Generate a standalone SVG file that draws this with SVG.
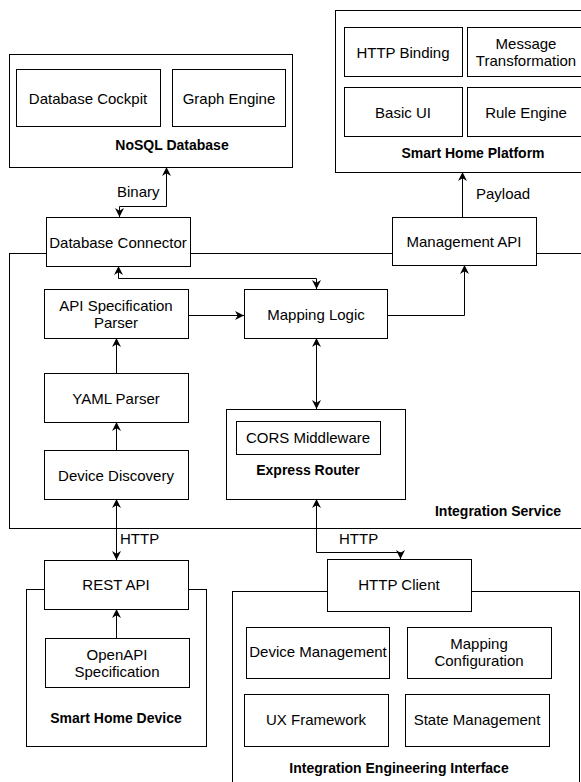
<svg xmlns="http://www.w3.org/2000/svg" width="581" height="782" viewBox="0 0 581 782">
<defs>
<marker id="arr" viewBox="0 0 10 10" refX="10" refY="5" markerWidth="9" markerHeight="9" markerUnits="userSpaceOnUse" orient="auto-start-reverse">
<path d="M0,0 L10,5 L0,10 L3,5 Z" fill="#000"/>
</marker>
</defs>
<style>
rect{fill:#fff;stroke:#000;stroke-width:1}
text{font-family:"Liberation Sans",Arial,sans-serif;font-size:15px;fill:#000;text-anchor:middle;dominant-baseline:central}
.b{font-weight:bold;font-size:14px}
.s{text-anchor:start}
.c path{fill:none;stroke:#000;stroke-width:1}
.e{marker-end:url(#arr)}
.d{marker-start:url(#arr);marker-end:url(#arr)}
</style>
<rect width="581" height="782" style="fill:#fff;stroke:none"/>
<g id="nosql-database">
<rect x="9.5" y="54.5" width="283" height="113"/>
<text class="b" x="172" y="145">NoSQL Database</text>
</g>
<g id="database-cockpit"><rect x="16.5" y="69.5" width="144" height="57"/><text x="88" y="98">Database Cockpit</text></g>
<g id="graph-engine"><rect x="172.5" y="69.5" width="113" height="57"/><text x="229" y="98">Graph Engine</text></g>
<g id="smart-home-platform">
<rect x="335.5" y="10.5" width="276" height="162"/>
<text class="b" x="473" y="153">Smart Home Platform</text>
</g>
<g id="http-binding"><rect x="344.5" y="27.5" width="118" height="49"/><text x="403" y="52">HTTP Binding</text></g>
<g id="message-transformation"><rect x="467.5" y="27.5" width="118" height="49"/><text x="526" y="43">Message</text><text x="526" y="60">Transformation</text></g>
<g id="basic-ui"><rect x="344.5" y="87.5" width="118" height="49"/><text x="403" y="112">Basic UI</text></g>
<g id="rule-engine"><rect x="467.5" y="87.5" width="118" height="49"/><text x="526" y="112">Rule Engine</text></g>
<g id="integration-service">
<rect x="9.5" y="253.5" width="600" height="275"/>
<text class="b" x="498" y="511">Integration Service</text>
</g>
<g id="smart-home-device">
<rect x="26.5" y="589.5" width="180" height="157"/>
<text class="b" x="116" y="718">Smart Home Device</text>
</g>
<g id="integration-engineering-interface">
<rect x="232.5" y="591.5" width="347" height="230"/>
<text class="b" x="399" y="768">Integration Engineering Interface</text>
</g>
<g id="database-connector"><rect x="46.5" y="217.5" width="144" height="49"/><text x="118" y="242">Database Connector</text></g>
<g id="management-api"><rect x="392.5" y="217.5" width="144" height="48"/><text x="464" y="241">Management API</text></g>
<g id="api-specification-parser"><rect x="44.5" y="289.5" width="144" height="49"/><text x="116" y="305">API Specification</text><text x="116" y="322">Parser</text></g>
<g id="mapping-logic"><rect x="244.5" y="289.5" width="143" height="49"/><text x="316" y="314">Mapping Logic</text></g>
<g id="yaml-parser"><rect x="44.5" y="373.5" width="144" height="49"/><text x="116" y="398">YAML Parser</text></g>
<g id="device-discovery"><rect x="44.5" y="450.5" width="144" height="49"/><text x="116" y="475">Device Discovery</text></g>
<g id="express-router">
<rect x="226.5" y="409.5" width="179" height="90"/>
<text class="b" x="308" y="470">Express Router</text>
</g>
<g id="cors-middleware"><rect x="236.5" y="421.5" width="144" height="33"/><text x="308" y="437">CORS Middleware</text></g>
<g id="rest-api"><rect x="44.5" y="560.5" width="144" height="49"/><text x="116" y="584">REST API</text></g>
<g id="openapi-specification"><rect x="45.5" y="638.5" width="144" height="49"/><text x="117" y="654">OpenAPI</text><text x="117" y="671">Specification</text></g>
<g id="http-client"><rect x="327.5" y="559.5" width="144" height="52"/><text x="399" y="584">HTTP Client</text></g>
<g id="device-management"><rect x="246.5" y="627.5" width="143" height="51"/><text x="318" y="651">Device Management</text></g>
<g id="mapping-configuration"><rect x="407.5" y="627.5" width="144" height="51"/><text x="479" y="643">Mapping</text><text x="479" y="660">Configuration</text></g>
<g id="ux-framework"><rect x="244.5" y="694.5" width="144" height="52"/><text x="316" y="719">UX Framework</text></g>
<g id="state-management"><rect x="405.5" y="694.5" width="144" height="52"/><text x="477" y="719">State Management</text></g>
<g id="connectors" class="c">
<path class="d" d="M119.5,217 V206.5 H166.5 V167"/>
<path class="d" d="M118.5,266 V278.5 H316.5 V289"/>
<path class="e" d="M188,315.5 H244"/>
<path class="e" d="M387,315.5 H464.5 V265"/>
<path class="d" d="M316.5,338 V409"/>
<path class="e" d="M116.5,373 V338"/>
<path class="e" d="M116.5,450 V422"/>
<path class="d" d="M116.5,499 V560"/>
<path class="e" d="M116.5,638 V609"/>
<path class="d" d="M316.5,499 V552.5 H400.5 V559"/>
<path class="e" d="M462.5,217 V172"/>
<text class="s" x="117" y="191">Binary</text>
<text class="s" x="476" y="193">Payload</text>
<text class="s" x="120" y="538">HTTP</text>
<text class="s" x="339" y="538">HTTP</text>
</g>
</svg>
